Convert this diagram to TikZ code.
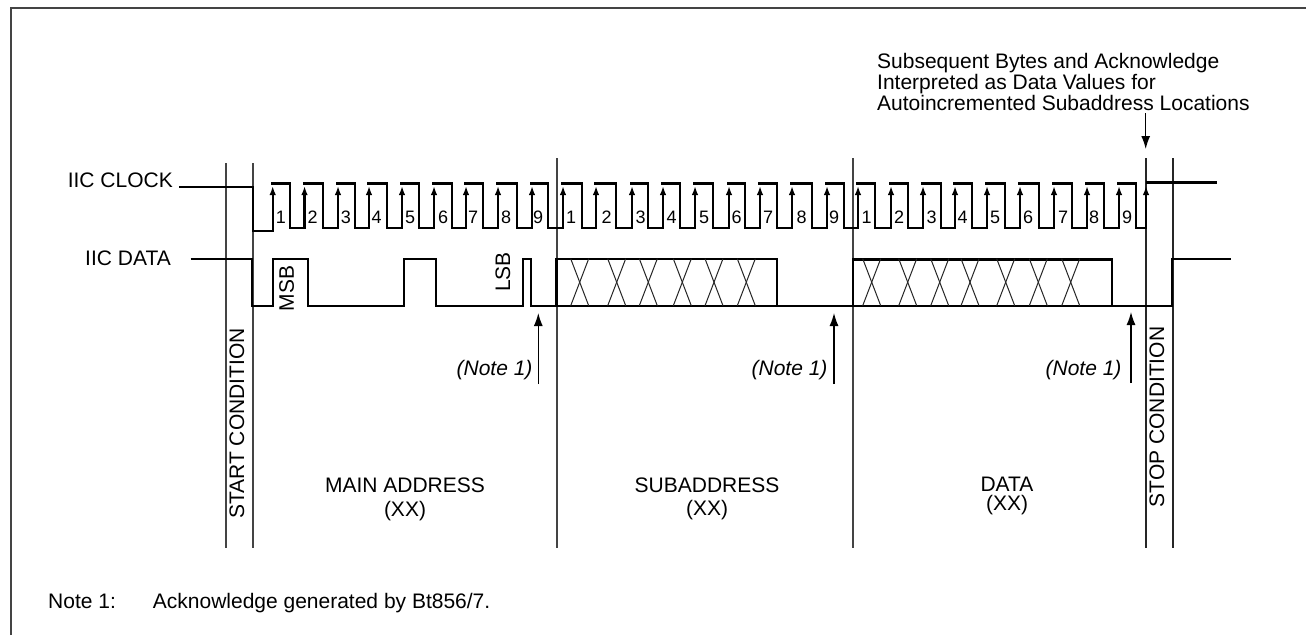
\documentclass[tikz,border=0pt]{standalone}
\usepackage{fontspec}
\setmainfont{Liberation Sans}
\usetikzlibrary{arrows.meta}
\definecolor{gridc}{HTML}{444444}
\tikzset{
  lab/.style={inner sep=0pt,font=\fontsize{21}{21}\selectfont},
  noteit/.style={inner sep=0pt,font=\fontsize{21}{21}\selectfont\itshape},
  num/.style={inner sep=0pt,font=\fontsize{18}{18}\selectfont},
  wave/.style={line width=2.4pt,black,line join=miter},
  gridl/.style={line width=1.4pt,gridc},
  cross/.style={line width=1pt,black!85},
  edgeup/.style={line width=2.4pt,black,-{Latex[length=9pt,width=6.5pt]}},
  notearrow/.style={line width=1.3pt,black,-{Latex[length=13pt,width=9pt]}}
}
\begin{document}
\begin{tikzpicture}[x=1pt,y=-1pt]
\useasboundingbox (0,0) rectangle (1306,635);
\fill[white] (0,0) rectangle (1306,635);
% frame
\draw[line width=2pt,gridc] (11,635) -- (11,8) -- (1306,8);
% vertical guides
\foreach \x/\t in {226/163,253/163,557/158,853/158}
  \draw[gridl] (\x,\t) -- (\x,548);
\foreach \x in {1146,1173}
  \draw[line width=1.1pt,black!85] (\x,158) -- (\x,548);
% labels left
\node[lab,anchor=base east] (clk) at (173,187.7) {IIC CLOCK};
\node[lab,anchor=base east] (dat) at (171,265) {IIC DATA};
% clock
\draw[wave] (179,187) -- (252.7,187) -- (252.7,231) -- (272.7,231) -- (272.7,195);
\foreach \r/\f/\n in {272.7/290/304.5,304.5/322.7/338,338/355/369,369/387/402,402/419/434,434/452/466,466/483/498,498/517/532,532/548/563,
                      563/582/596,596/616/632,632/648/663,663/680/695,695/713/729,729/745/760,760/777/792,792/812/827,827/844/858,
                      858/875/891,891/908/923,923/941/955,955/972/987,987/1005/1020,1020/1039/1054,1054/1072/1087,1087/1104/1119,1119/1136/1146}{
  \draw[edgeup] (\r,200) -- (\r,186);
  \draw[wave] (\r-1.7,183.5) -- (\f,183.5) -- (\f,228) -- (\n,228) -- (\n,195);
}
\draw[edgeup] (1146,200) -- (1146,186);
\draw[wave] (1146,182.5) -- (1217,182.5);
% clock numbers
\foreach \x/\n in {281/1,312.7/2,346/3,376.7/4,410/5,443/6,473/7,506/8,538/9,
                   571/1,606.7/2,640.7/3,671.7/4,704/5,736.7/6,768/7,801.7/8,834/9,
                   866.7/1,899/2,931.7/3,962.7/4,995/5,1028/6,1063/7,1094/8,1127/9}
  \node[num] at (\x,217) {\n};
% data
\draw[wave] (190.7,258.7) -- (252,258.7) -- (252,306) -- (272.7,306) -- (272.7,258.7) -- (308,258.7) -- (308,306)
  -- (404,306) -- (404,258.7) -- (436,258.7) -- (436,305.7) -- (523,305.7) -- (523,258.7) -- (531,258.7) -- (531,305.7)
  -- (1172,305.7) -- (1172,258.7) -- (1231,258.7);
\draw[wave] (556.5,305.7) -- (556.5,258.7) -- (777,258.7) -- (777,305.7);
\draw[wave] (853,305.7) -- (853,259.5) -- (1112,259.5) -- (1112,305.7);
% crossings
\foreach \a in {570.7,607.7,639.3,673.3,705,737.3,862.7,898.7,930.7,961,996.7,1029.3,1061.7}{
  \draw[cross] (\a,258.7) -- (\a+18,305.7);
  \draw[cross] (\a+18,258.7) -- (\a,305.7);
}
% rotated labels
\node[lab,rotate=90] (msb) at (286.7,288.3) {MSB};
\node[lab,rotate=90] (lsb) at (503,272) {LSB};
\node[lab,rotate=90] (start) at (237,423.5) {START CONDITION};
\node[lab,rotate=90] (stop) at (1157,417) {STOP CONDITION};
% note arrows
\node[noteit,anchor=base east] (n1) at (532.7,375) {(Note 1)};
\node[noteit,anchor=base east] (n2) at (827.7,375) {(Note 1)};
\node[noteit,anchor=base east] (n3) at (1121.7,375) {(Note 1)};
\coordinate (a1) at (538.3,384); \coordinate (b1) at (538.3,313);
\coordinate (a2) at (834,384);   \coordinate (b2) at (834,313);
\coordinate (a3) at (1131,383);  \coordinate (b3) at (1131,312);
\draw[notearrow] (a1) -- (b1);
\draw[notearrow] (a2) -- (b2);
\draw[notearrow] (a3) -- (b3);
% section labels
\node[lab,anchor=base] (m1) at (405,492.7) {MAIN ADDRESS};
\node[lab,anchor=base] (m2) at (405,516) {(XX)};
\node[lab,anchor=base] (s1) at (707,492.7) {SUBADDRESS};
\node[lab,anchor=base] (s2) at (707,515.5) {(XX)};
\node[lab,anchor=base] (d1) at (1007,491.7) {DATA};
\node[lab,anchor=base] (d2) at (1007,510.7) {(XX)};
% top note
\node[lab,anchor=base west] (t1) at (877,68) {Subsequent Bytes and Acknowledge};
\node[lab,anchor=base west] (t2) at (877,89) {Interpreted as Data Values for};
\node[lab,anchor=base west] (t3) at (877,110) {Autoincremented Subaddress Locations};
\coordinate (a4) at (1145.7,113); \coordinate (b4) at (1145.7,149);
\draw[notearrow] (a4) -- (b4);
% footer
\node[lab,anchor=base west] (f1) at (48,608) {Note 1:};
\node[lab,anchor=base west] (f2) at (152.7,608) {Acknowledge generated by Bt856/7.};
\end{tikzpicture}
\end{document}
